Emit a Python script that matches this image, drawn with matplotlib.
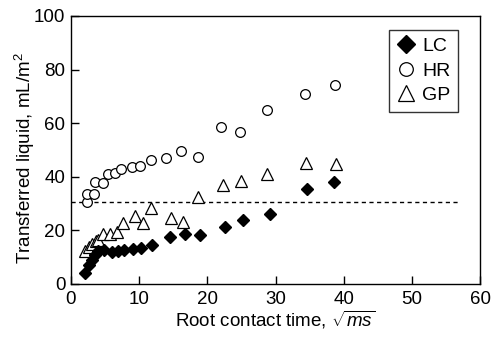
import matplotlib
matplotlib.use("Agg")
import matplotlib.pyplot as plt

plt.rcParams['font.family'] = ['Liberation Sans', 'DejaVu Sans']
plt.rcParams['mathtext.fontset'] = 'custom'
plt.rcParams['mathtext.rm'] = 'Liberation Sans'
plt.rcParams['mathtext.it'] = 'Liberation Sans:italic'

# LC (filled diamonds)
lc_x = [2.1, 2.6, 3.1, 3.5, 4.0, 4.8, 6.0, 6.9, 7.8, 9.1, 10.3, 11.9, 14.5, 16.7, 18.9, 22.6, 25.2, 29.2, 34.6, 38.6]
lc_y = [4.1, 7.1, 8.9, 10.8, 12.3, 12.6, 11.9, 12.3, 12.6, 13.0, 13.4, 14.5, 17.6, 18.5, 18.2, 21.1, 23.8, 26.3, 35.6, 38.0]

# HR (open circles)
hr_x = [2.3, 2.3, 3.4, 3.5, 4.7, 5.5, 6.5, 7.4, 8.9, 10.1, 11.8, 14.0, 16.1, 18.7, 22.0, 24.8, 28.8, 34.3, 38.7]
hr_y = [30.6, 33.7, 33.7, 38.0, 37.7, 41.2, 41.4, 43.0, 43.6, 44.2, 46.1, 47.1, 49.6, 47.3, 58.5, 56.6, 65.1, 70.9, 74.3]

# GP (open triangles)
gp_x = [2.1, 2.6, 3.1, 3.7, 4.0, 4.7, 5.7, 6.7, 7.7, 9.4, 10.6, 11.8, 14.7, 16.5, 18.7, 22.3, 24.9, 28.7, 34.5, 38.9]
gp_y = [12.3, 13.8, 14.9, 16.0, 16.4, 18.8, 18.8, 19.3, 22.6, 25.3, 22.7, 28.4, 24.6, 23.2, 32.5, 36.8, 38.4, 41.2, 45.1, 44.9]

# dashed reference line
ref_x = [0, 56.7]
ref_y = [30.5, 30.5]

x_ticks = [0, 10, 20, 30, 40, 50, 60]
y_ticks = [0, 20, 40, 60, 80, 100]

fig = plt.figure(figsize=(4.91, 3.46), dpi=100)
ax = fig.add_axes([0.1446, 0.1792, 0.8330, 0.7746])

ax.plot(ref_x, ref_y, linestyle=(0, (3, 2.5)), color='black', lw=1.0, zorder=1)
ax.plot(lc_x, lc_y, linestyle='none', marker='D', ms=6.5, mfc='black', mec='black', mew=1, label='LC', zorder=3)
ax.plot(hr_x, hr_y, linestyle='none', marker='o', ms=7, mfc='white', mec='black', mew=0.9, label='HR', zorder=2)
ax.plot(gp_x, gp_y, linestyle='none', marker='^', ms=8, mfc='white', mec='black', mew=0.9, label='GP', zorder=2)

ax.set_xlim(0, 60)
ax.set_ylim(0, 100)
ax.set_xticks(x_ticks)
ax.set_yticks(y_ticks)
ax.tick_params(direction='in', length=6, width=1, labelsize=13.5, top=False, right=False)
ax.tick_params(axis='x', pad=5)
ax.tick_params(axis='y', pad=4)
for s in ax.spines.values():
    s.set_linewidth(1)

ax.set_xlabel(r'Root contact time, $\sqrt{\mathit{ms}}$', fontsize=13.5, labelpad=1)
ax.set_ylabel(r'Transferred liquid, mL/m$^2$', fontsize=13.5)
ax.yaxis.set_label_coords(-0.083, 0.47)

leg = ax.legend(loc='upper right', bbox_to_anchor=(0.97, 0.985), fontsize=14, frameon=True,
                fancybox=False, edgecolor='black', handletextpad=0.3, borderpad=0.4,
                handlelength=1.0, labelspacing=0.35, markerscale=1.4)
leg.get_frame().set_linewidth(1)

fig.savefig('out.png', dpi=100)
